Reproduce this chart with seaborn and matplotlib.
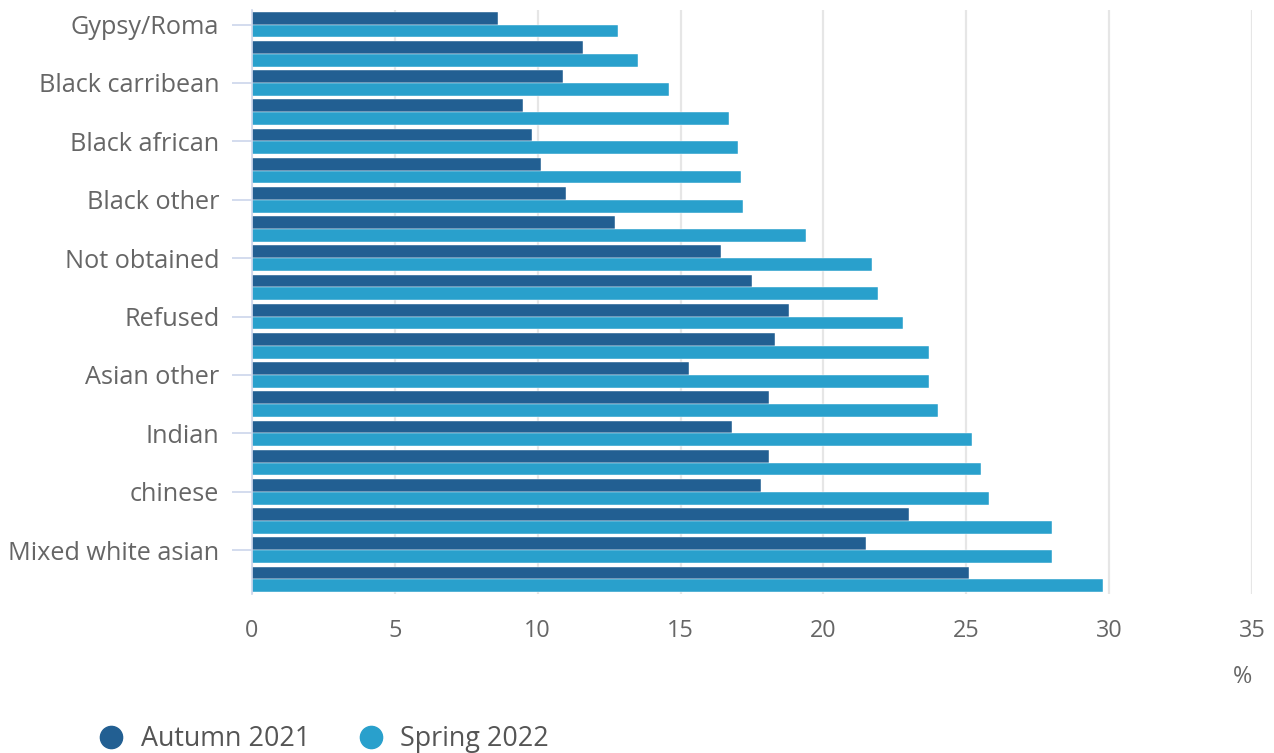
import matplotlib
matplotlib.use("Agg")
import matplotlib.pyplot as plt
from matplotlib.lines import Line2D
import seaborn as sns
import pandas as pd

# Rows from top to bottom; only every other row carries a visible label
row_labels = [
    "Gypsy/Roma", "", "Black carribean", "", "Black african", "",
    "Black other", "", "Not obtained", "", "Refused", "",
    "Asian other", "", "Indian", "", "chinese", "",
    "Mixed white asian", "",
]
autumn_2021 = [8.6, 11.6, 10.9, 9.5, 9.8, 10.1, 11.0, 12.7, 16.4, 17.5,
               18.8, 18.3, 15.3, 18.1, 16.8, 18.1, 17.8, 23.0, 21.5, 25.1]
spring_2022 = [12.8, 13.5, 14.6, 16.7, 17.0, 17.1, 17.2, 19.4, 21.7, 21.9,
               22.8, 23.7, 23.7, 24.0, 25.2, 25.5, 25.8, 28.0, 28.0, 29.8]
periods = ["Autumn 2021", "Spring 2022"]
x_ticks = [0, 5, 10, 15, 20, 25, 30, 35]

dark_blue = "#225f92"
light_blue = "#29a0cc"
grid_col = "#e6e6e6"
axis_col = "#ccd6eb"
text_col = "#666666"

rows = list(range(len(row_labels)))
df = pd.DataFrame({
    "row": rows * 2,
    "value": autumn_2021 + spring_2022,
    "period": [periods[0]] * len(rows) + [periods[1]] * len(rows),
})

sns.set_theme(style="white")
plt.rcParams["font.family"] = ["Open Sans", "DejaVu Sans"]

fig = plt.figure(figsize=(12.74, 7.53), dpi=100)
ax = fig.add_axes([252 / 1274, 1 - 594 / 753, 1000 / 1274, 584 / 753])

sns.barplot(
    data=df, x="value", y="row", hue="period", orient="y",
    hue_order=periods, palette=[dark_blue, light_blue], saturation=1,
    width=0.87, edgecolor="#ffffff", linewidth=0.3, ax=ax, legend=False,
)

ax.set_xlim(0, 35)
ax.set_ylim(len(rows) - 0.5, -0.5)
ax.set_xticks(x_ticks)
ax.set_xticklabels([str(t) for t in x_ticks])
ax.xaxis.grid(True, color=grid_col, linewidth=1.6)
ax.yaxis.grid(False)
ax.set_axisbelow(True)

labelled = [i for i, lab in enumerate(row_labels) if lab]
ax.set_yticks(labelled)
ax.set_yticklabels([row_labels[i] for i in labelled])

for side in ["top", "right", "bottom"]:
    ax.spines[side].set_visible(False)
ax.spines["left"].set_color(axis_col)
ax.spines["left"].set_linewidth(1.2)

ax.tick_params(axis="y", length=14.5, width=1.2, color=axis_col,
               pad=9, labelsize=18.2, labelcolor=text_col, left=True)
ax.tick_params(axis="x", length=0, pad=18, labelsize=16.8, labelcolor=text_col)

ax.set_ylabel("")
ax.set_xlabel("%", loc="right", fontsize=16.8, color=text_col, labelpad=16)

handles = [
    Line2D([0], [0], marker="o", linestyle="", markersize=16,
           markerfacecolor=c, markeredgecolor=c)
    for c in [dark_blue, light_blue]
]
fig.legend(handles, periods, loc="center left",
           bbox_to_anchor=(87 / 1274, 1 - 739 / 753), ncol=2, frameon=False,
           fontsize=19.4, labelcolor="#555555", handletextpad=0.6,
           columnspacing=1.75, handlelength=1.0, borderaxespad=0)

fig.savefig("out.png", dpi=100)
